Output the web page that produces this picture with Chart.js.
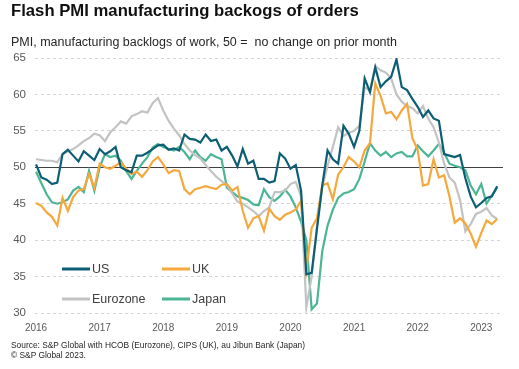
<!DOCTYPE html>
<html>
<head>
<meta charset="utf-8">
<script src="https://cdn.jsdelivr.net/npm/chart.js@4.4.1/dist/chart.umd.min.js"></script>
<style>
  html, body { margin: 0; padding: 0; background: #fff; }
  body { width: 519px; height: 369px; position: relative; overflow: hidden; font-family: "Liberation Sans", Arial, sans-serif; }
  #wrap { position: absolute; left: 0; top: 0; width: 519px; height: 369px; }
  .txt { position: absolute; left: 11px; white-space: nowrap; }
  #title { top: 3px; font-size: 16.7px; line-height: 1; font-weight: bold; color: #111; }
  #subtitle { top: 36px; font-size: 12.5px; line-height: 1; color: #262626; }
  #source { top: 341px; font-size: 8.4px; line-height: 9.5px; color: #262626; }
</style>
</head>
<body>
<div id="wrap"><canvas id="pmi"></canvas></div>
<div class="txt" id="title">Flash PMI manufacturing backogs of orders</div>
<div class="txt" id="subtitle">PMI, manufacturing backlogs of work, 50 =&nbsp; no change on prior month</div>
<div class="txt" id="source">Source: S&amp;P Global with HCOB (Eurozone), CIPS (UK), au Jibun Bank (Japan)<br>© S&amp;P Global 2023.</div>
<script>
// Monthly readings, Jan 2016 .. Apr 2023
const years = ['2016', '2017', '2018', '2019', '2020', '2021', '2022', '2023'];
const months = Array.from({ length: 88 }, (_, i) => i); // month index from Jan 2016

const us = [
  50.4, 48.6, 48.3, 47.7, 47.9, 51.8, 52.4, 51.6, 50.8, 52.2, 51.6, 51.0,
  52.5, 51.8, 52.2, 52.8, 50.0, 49.6, 49.3, 51.6, 51.6, 52.0, 52.5, 53.0,
  53.1, 52.4, 52.6, 52.3, 54.5, 53.9, 53.8, 53.4, 54.5, 53.6, 53.8, 52.3,
  52.8, 51.6, 50.1, 52.5, 50.5, 50.9, 48.4, 48.4, 47.9, 48.1, 51.9, 51.2,
  49.8, 50.3, 46.8, 35.3, 35.5, 41.5, 47.5, 52.3, 51.1, 50.5, 55.7, 54.6,
  52.8, 55.0, 62.2, 60.3, 63.7, 61.0, 61.8, 62.4, 64.8, 61.0, 60.6, 59.4,
  58.3, 56.9, 57.8, 56.7, 56.4, 51.8, 51.6, 51.4, 51.7, 48.5, 46.0, 44.5,
  45.1, 45.8, 46.0, 47.4
];
const uk = [
  45.1, 44.7, 43.8, 43.2, 42.0, 45.8, 44.0, 45.9, 46.8, 47.0, 49.1, 47.2,
  50.5, 50.0, 49.8, 50.2, 50.7, 49.8, 49.1, 49.4, 48.7, 49.6, 50.8, 51.4,
  50.4, 49.2, 49.6, 49.5, 47.0, 46.3, 47.0, 47.2, 47.4, 47.2, 47.0, 47.6,
  47.7, 46.8, 47.3, 44.0, 41.7, 43.0, 43.3, 41.3, 44.3, 43.3, 42.8, 43.5,
  43.8, 44.2, 45.4, 36.0, 41.7, 43.0, 47.5, 47.8, 45.6, 49.0, 50.0, 51.4,
  50.8, 50.0, 52.3, 53.3, 61.5, 59.8, 57.4, 57.6, 56.6, 57.8, 58.7, 54.0,
  52.4, 47.5, 47.7, 51.1, 48.6, 48.9, 46.0, 42.4, 43.0, 42.3, 40.9, 39.1,
  41.0, 42.7, 42.2, 42.9
];
const eurozone = [
  51.1, 51.0, 50.9, 50.9, 50.7, 51.8, 52.2, 52.5, 53.0, 53.6, 54.0, 54.6,
  54.4, 53.6, 54.8, 55.5, 56.3, 56.0, 57.0, 57.3, 57.7, 57.5, 58.8, 59.5,
  57.8, 56.4, 55.3, 54.4, 53.2, 52.3, 51.7, 51.2, 50.3, 49.5, 48.7, 48.1,
  47.6, 46.4, 45.3, 45.0, 44.5, 44.0, 43.3, 44.0, 44.5, 46.6, 46.6, 46.8,
  47.7, 48.0, 46.0, 30.8, 35.0, 42.0, 47.3, 50.2, 52.8, 55.5, 54.3, 54.7,
  55.0, 55.7, 61.0, 60.5, 63.9, 63.3, 63.0, 62.2, 60.0, 59.0, 58.4, 58.1,
  57.4, 58.4, 56.7, 55.5, 53.4, 50.5, 48.6, 47.9, 45.5, 41.2, 42.2, 43.6,
  43.9, 44.4, 43.4, 42.9
];
const japan = [
  49.4, 47.8, 46.3, 45.2, 45.0, 45.2, 45.6, 46.8, 47.3, 46.6, 49.5, 46.8,
  50.0, 51.8, 51.4, 51.6, 50.9, 49.5, 48.4, 49.5, 50.5, 51.4, 52.7, 53.2,
  52.8, 52.5, 52.3, 52.8, 52.1, 51.1, 52.3, 51.4, 50.9, 51.8, 51.4, 51.1,
  47.2, 46.6, 46.0, 45.8, 45.5, 44.9, 44.8, 47.0, 45.9, 45.4, 46.0, 46.9,
  46.0, 44.5, 42.5, 40.0, 30.5, 31.3, 38.5, 42.0, 44.2, 45.8, 46.4, 46.6,
  47.0, 48.4, 50.8, 53.3, 52.3, 51.6, 52.1, 51.4, 51.9, 52.1, 51.5, 51.5,
  53.0, 52.2, 51.5, 52.3, 53.2, 52.0, 50.5, 50.2, 50.0, 49.6, 47.5, 46.3,
  47.7, 45.0, 46.1, 47.2
];

const COLORS = {
  us: '#0c5e74',
  uk: '#f5a83e',
  eurozone: '#c3c3c3',
  japan: '#4cb595'
};

Chart.defaults.font.family = '"Liberation Sans", Arial, sans-serif';

// legend drawn inside the plot, two columns
const insideLegend = {
  id: 'insideLegend',
  afterDatasetsDraw(chart) {
    const { ctx } = chart;
    ctx.save();
    ctx.font = '12.5px "Liberation Sans", Arial, sans-serif';
    ctx.textBaseline = 'middle';
    chart.data.datasets.forEach((ds, k) => {
      const x = 62 + (k % 2) * 100;
      const y = 269 + Math.floor(k / 2) * 30;
      ctx.strokeStyle = ds.borderColor;
      ctx.lineWidth = 3;
      ctx.beginPath();
      ctx.moveTo(x, y);
      ctx.lineTo(x + 28, y);
      ctx.stroke();
      ctx.fillStyle = '#404040';
      ctx.fillText(ds.label, x + 30, y + 0.5);
    });
    ctx.restore();
  }
};

const line = (label, data, color) => ({
  label,
  data,
  borderColor: color,
  backgroundColor: color,
  borderWidth: 2.2,
  pointRadius: 0,
  tension: 0,
  fill: false
});

new Chart(document.getElementById('pmi'), {
  type: 'line',
  data: {
    labels: months,
    datasets: [
      line('US', us, COLORS.us),
      line('UK', uk, COLORS.uk),
      line('Eurozone', eurozone, COLORS.eurozone),
      line('Japan', japan, COLORS.japan)
    ]
  },
  options: {
    responsive: true,
    maintainAspectRatio: false,
    animation: false,
    events: [],
    layout: { padding: { top: 58, right: 16, bottom: 34, left: 0 } },
    plugins: {
      legend: { display: false },
      tooltip: { enabled: false }
    },
    scales: {
      x: {
        type: 'linear',
        min: -0.2,
        max: 88.1,
        afterBuildTicks: axis => { axis.ticks = years.map((_, k) => ({ value: k * 12 })); },
        afterFit: axis => { axis.height = 22; },
        grid: { display: false },
        border: { display: false },
        ticks: {
          autoSkip: false,
          maxRotation: 0,
          padding: 1,
          color: '#595959',
          font: { size: 10 },
          callback: v => years[Math.round(v / 12)]
        }
      },
      y: {
        min: 30,
        max: 65,
        afterFit: axis => { axis.width = 35; },
        grid: {
          drawTicks: false,
          color: c => (c.tick && c.tick.value === 50 ? '#404040' : '#d4d4d4'),
          lineWidth: 1
        },
        border: {
          display: false,
          dash: c => (c.tick && c.tick.value === 50 ? [] : [3, 3])
        },
        ticks: {
          stepSize: 5,
          padding: 9,
          color: '#595959',
          font: { size: 11.5 }
        }
      }
    }
  },
  plugins: [insideLegend]
});
</script>
</body>
</html>
